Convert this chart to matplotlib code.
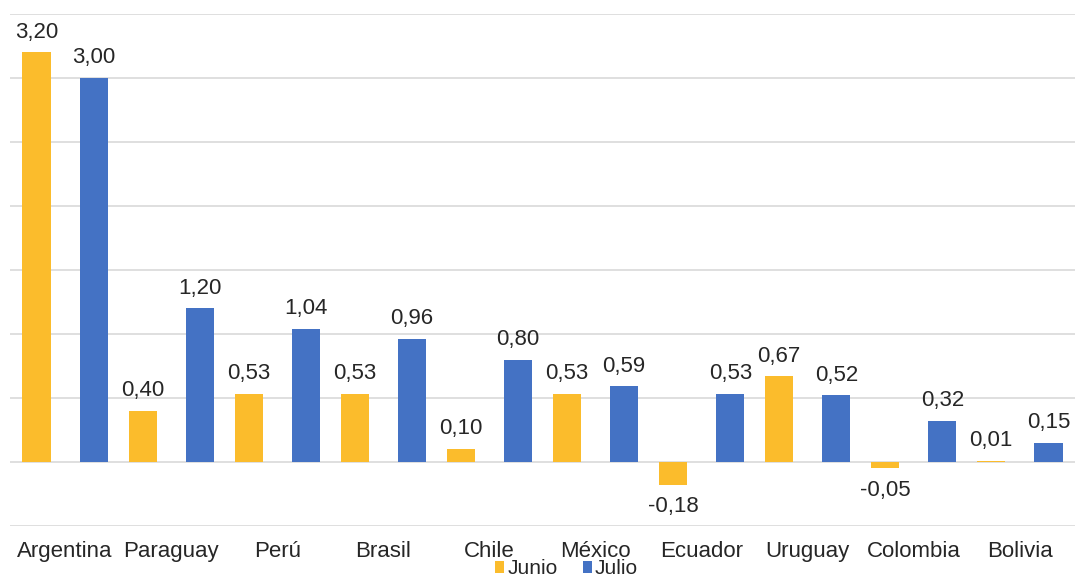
import numpy as np
import matplotlib.pyplot as plt

# Data
paises = ['Argentina', 'Paraguay', 'Perú', 'Brasil', 'Chile',
          'México', 'Ecuador', 'Uruguay', 'Colombia', 'Bolivia']
junio = [3.20, 0.40, 0.53, 0.53, 0.10, 0.53, -0.18, 0.67, -0.05, 0.01]
julio = [3.00, 1.20, 1.04, 0.96, 0.80, 0.59, 0.53, 0.52, 0.32, 0.15]

COLOR_JUNIO = '#FBBC2C'
COLOR_JULIO = '#4472C4'
TEXT_COLOR = '#262626'

plt.rcParams['font.family'] = ['Liberation Sans', 'DejaVu Sans']

fig = plt.figure(figsize=(10.78, 5.83), dpi=100)
ax = fig.add_axes([10 / 1078, 1 - 526 / 583, 1065 / 1078, 512 / 583])

x = np.arange(len(paises))
offset = 0.27
width = 0.265

bars_jun = ax.bar(x - offset, junio, width, color=COLOR_JUNIO, label='Junio', zorder=3)
bars_jul = ax.bar(x + offset, julio, width, color=COLOR_JULIO, label='Julio', zorder=3)


def fmt(v):
    return f"{v:.2f}".replace('.', ',')


for bars, vals in ((bars_jun, junio), (bars_jul, julio)):
    for b, v in zip(bars, vals):
        cx = b.get_x() + b.get_width() / 2
        if v >= 0:
            ax.annotate(fmt(v), (cx, v), xytext=(0, 7), textcoords='offset points',
                        ha='center', va='bottom', fontsize=16, color=TEXT_COLOR)
        else:
            ax.annotate(fmt(v), (cx, v), xytext=(0, -8), textcoords='offset points',
                        ha='center', va='top', fontsize=16, color=TEXT_COLOR)

ax.set_xlim(-0.52, len(paises) - 0.48)
ax.set_ylim(-0.5, 3.5)
ax.set_yticks(np.arange(-0.5, 3.51, 0.5))
ax.yaxis.grid(True, color='#D9D9D9', linewidth=1.2, zorder=0)
ax.tick_params(axis='y', left=False, labelleft=False)

ax.set_xticks(x)
ax.set_xticklabels(paises, fontsize=16, color=TEXT_COLOR)
ax.tick_params(axis='x', bottom=False, pad=7)
for s in ax.spines.values():
    s.set_visible(False)

fig.legend(handles=[bars_jun, bars_jul], labels=['Junio', 'Julio'],
           loc='lower center', bbox_to_anchor=(0.5255, -0.01), ncol=2, frameon=False,
           fontsize=15, handlelength=0.45, handleheight=0.45, handletextpad=0.15,
           columnspacing=1.2, borderpad=0, labelcolor=TEXT_COLOR)

fig.savefig('out.png', dpi=100)
